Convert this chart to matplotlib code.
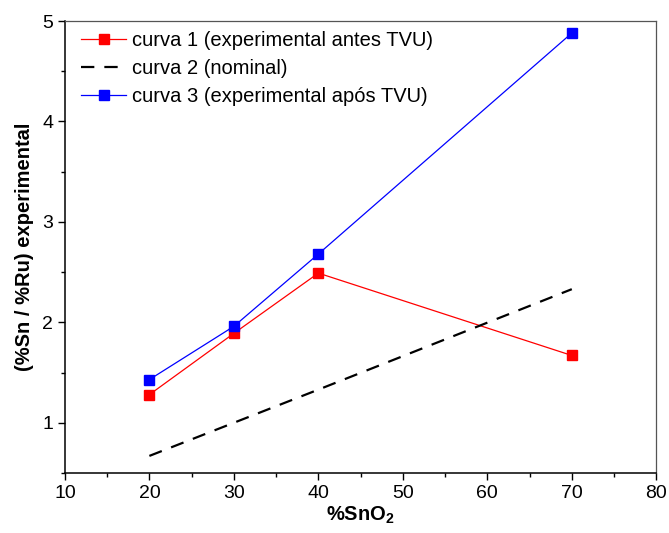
import matplotlib
matplotlib.use("Agg")
import matplotlib.pyplot as plt
from matplotlib.ticker import MultipleLocator

plt.rcParams['font.family'] = ['Liberation Sans', 'DejaVu Sans']

# composition (% SnO2) and measured Sn/Ru ratios
sno2 = [20, 30, 40, 70]
curva1 = [1.28, 1.89, 2.49, 1.67]   # experimental antes TVU
curva2 = [0.67, 1.00, 1.33, 2.33]   # nominal
curva3 = [1.43, 1.96, 2.68, 4.88]   # experimental após TVU

fig = plt.figure(figsize=(6.69, 5.33), dpi=100)
ax = fig.add_axes([0.097, 0.1126, 0.884, 0.848])

ax.plot(sno2, curva1, '-s', color='red', lw=0.9, ms=7,
        label='curva 1 (experimental antes TVU)')
ax.plot(sno2, curva2, '--', color='black', lw=1.6, dashes=(6, 4.5),
        label='curva 2 (nominal)')
ax.plot(sno2, curva3, '-s', color='blue', lw=0.9, ms=7,
        label='curva 3 (experimental após TVU)')

ax.set_xlim(10, 80)
ax.set_ylim(0.5, 5)
ax.xaxis.set_major_locator(MultipleLocator(10))
ax.xaxis.set_minor_locator(MultipleLocator(5))
ax.yaxis.set_major_locator(MultipleLocator(1))
ax.yaxis.set_minor_locator(MultipleLocator(0.5))

ax.tick_params(which='both', direction='out', top=False, right=False,
               labelsize=14, width=1)
ax.tick_params(which='major', length=5)
ax.tick_params(which='minor', length=3)
for s in ['left', 'bottom']:
    ax.spines[s].set_linewidth(1.1)
for s in ['top', 'right']:
    ax.spines[s].set_color('#555555')
    ax.spines[s].set_linewidth(0.9)

ax.set_xlabel('%SnO$_\\mathregular{2}$', fontsize=14.5, fontweight='bold', labelpad=2)
ax.set_ylabel('(%Sn / %Ru) experimental', fontsize=14.5, fontweight='bold', labelpad=6)

ax.legend(loc='upper left', frameon=False, fontsize=14.5, handlelength=2.25,
          handletextpad=0.3, labelspacing=0.45, borderaxespad=0.1,
          bbox_to_anchor=(0.01, 1.0))

fig.savefig('out.png', dpi=100)
